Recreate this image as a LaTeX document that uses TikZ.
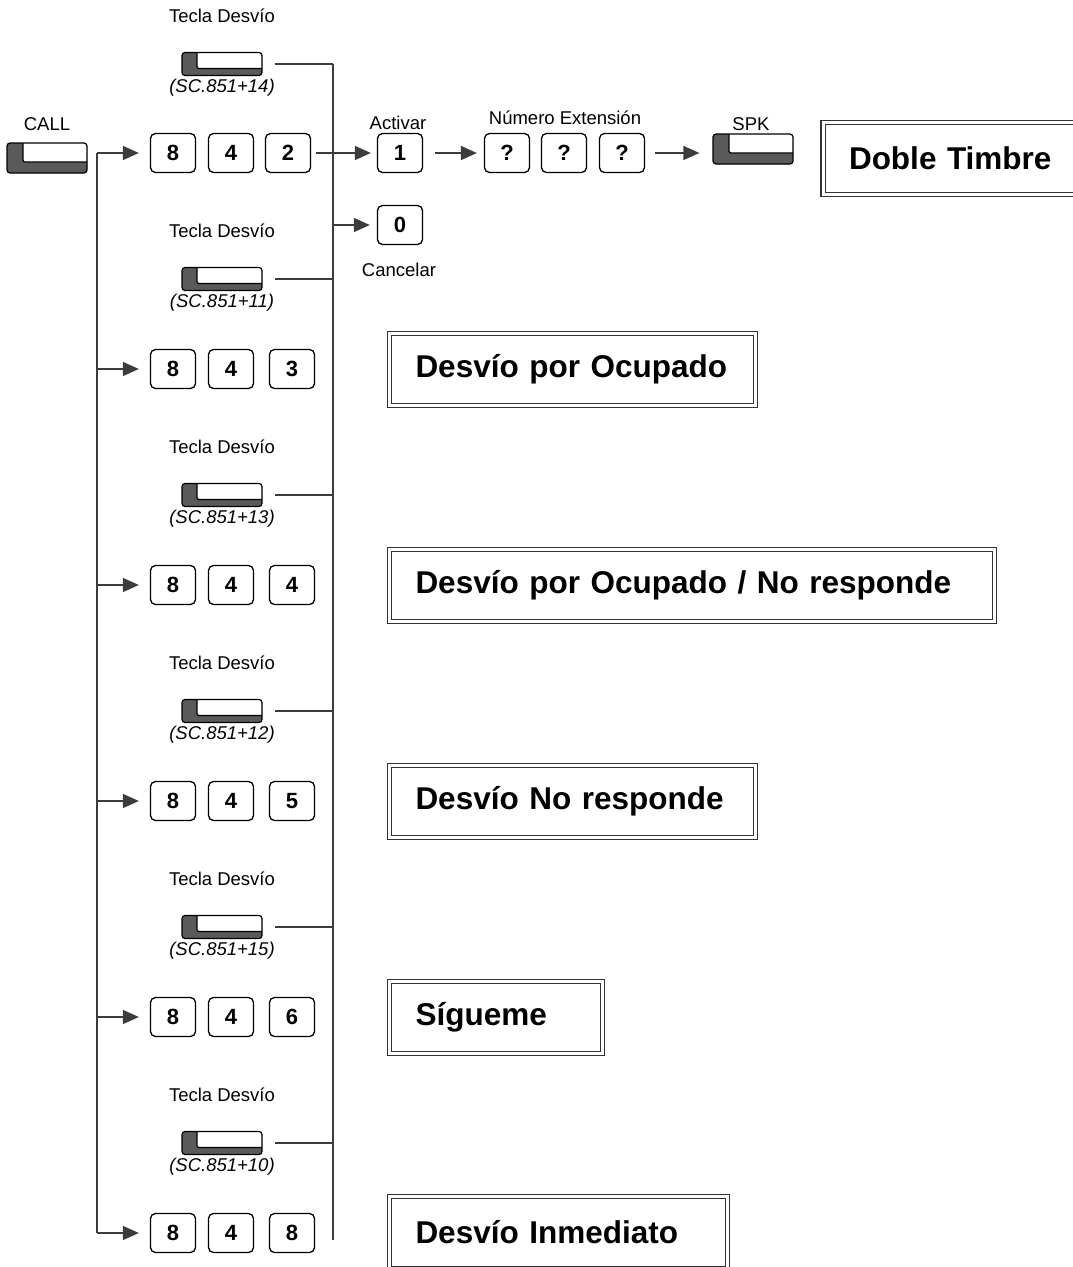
\documentclass[tikz,border=0pt]{standalone}
\usepackage{fontspec}
\setmainfont{Liberation Sans}
\usetikzlibrary{arrows.meta}
\definecolor{lc}{HTML}{3C3C3C}
\definecolor{kc}{HTML}{5A5A5A}
\begin{document}
\begin{tikzpicture}[x=1pt,y=-1pt,
  conn/.style={draw=lc, line width=1.4pt},
  arr/.style={conn, -{Triangle[length=16pt,width=14pt]}},
  digit/.style={draw=black, fill=white, rounded corners=5pt, line width=1.3pt,
    minimum width=45pt, minimum height=39pt, inner sep=0pt,
    font=\bfseries\fontsize{22}{26}\selectfont},
  fkey/.style={draw=black, fill=kc, rounded corners=3pt, line width=1.2pt,
    minimum width=80pt, minimum height=23pt, inner sep=0pt,
    path picture={\draw[fill=white, line width=1.2pt, rounded corners=2pt]
      ([xshift=15pt,yshift=2pt]path picture bounding box.north west) rectangle
      ([xshift=2pt,yshift=7pt]path picture bounding box.south east);}},
  bigkey/.style={draw=black, fill=kc, rounded corners=3pt, line width=1.2pt,
    minimum width=80pt, minimum height=30pt, inner sep=0pt,
    path picture={\draw[fill=white, line width=1.2pt, rounded corners=2pt]
      ([xshift=16pt,yshift=2pt]path picture bounding box.north west) rectangle
      ([xshift=2pt,yshift=11pt]path picture bounding box.south east);}},
  lbl/.style={font=\fontsize{18.5}{21}\selectfont, inner sep=0pt},
  sclbl/.style={font=\itshape\fontsize{18.5}{21}\selectfont, inner sep=0pt},
  frame/.style={draw=black!80, line width=1.3pt, double=white, double distance=3pt,
    minimum height=72pt, inner xsep=26pt, inner ysep=0pt, text width=#1, align=left,
    font=\bfseries\fontsize{31.5}{36}\selectfont}
]
\useasboundingbox (0,0) rectangle (1073,1267);
\fill[white] (0,0) rectangle (1073,1267);
\clip (0,0) rectangle (1073,1267);

% CALL key
\node[lbl] (calllbl) at (47,124) {CALL};
\node[bigkey] (call) at (47,158) {};

% rows
\foreach \i/\ky/\ry/\sc/\d/\cx in {1/64/153/14/2/288, 2/279/369/11/3/292, 3/495/585/13/4/292,
    4/711/801/12/5/292, 5/927/1017/15/6/292, 6/1143/1233/10/8/292}{
  \node[lbl] (t\i) at (222,\ky-48) {Tecla Desvío};
  \node[fkey] (k\i) at (222,\ky) {};
  \node[sclbl] (s\i) at (222,\ky+24) {(SC.851+\sc)};
  \node[digit] (a\i) at (173,\ry) {8};
  \node[digit] (b\i) at (231,\ry) {4};
  \node[digit] (c\i) at (\cx,\ry) {\d};
  \coordinate (L\i) at (97,\ry);
  \coordinate (R\i) at (333,\ky);
  \draw[arr, shorten >=11pt] (L\i) -- (a\i);
  \draw[conn, shorten <=12pt] (k\i) -- (R\i);
}
\coordinate (Rend) at (333,1240);
\draw[conn] (L1) -- (L6);
\draw[conn] (R1) -- (Rend);

% row 1 chain
\node[lbl] (actlbl) at (398,123) {Activar};
\node[digit] (one) at (400,153) {1};
\coordinate (Rz) at (333,225);
\node[digit] (zero) at (400,225) {0};
\node[lbl] (canlbl) at (399,270) {Cancelar};
\node[lbl] (numlbl) at (565,118) {Número Extensión};
\node[digit] (q1) at (507,153) {?};
\node[digit] (q2) at (564,153) {?};
\node[digit] (q3) at (622,153) {?};
\node[lbl] (spklbl) at (751,124) {SPK};
\node[bigkey] (spk) at (753,149) {};

\draw[arr, shorten <=5pt, shorten >=6pt] (c1) -- (one);
\draw[arr, shorten >=7pt] (Rz) -- (zero);
\draw[arr, shorten <=12pt, shorten >=7pt] (one) -- (q1);
\draw[arr, shorten <=10pt, shorten >=13pt] (q3.east) -- (spk.west |- q3.east);

% result frames
\node[frame=215pt] (f1) at (956.5,158.5) {\mbox{Doble Timbre}};
\node[frame=314pt] (f2) at (572.5,369.5) {\mbox{Desvío por Ocupado}};
\node[frame=553pt] (f3) at (692,585.5) {\mbox{Desvío por Ocupado / No responde}};
\node[frame=314pt] (f4) at (572.5,801.5) {\mbox{Desvío No responde}};
\node[frame=161pt] (f5) at (496,1017.5) {\mbox{Sígueme}};
\node[frame=286pt] (f6) at (558.5,1232.5) {\mbox{Desvío Inmediato}};
\end{tikzpicture}
\end{document}
